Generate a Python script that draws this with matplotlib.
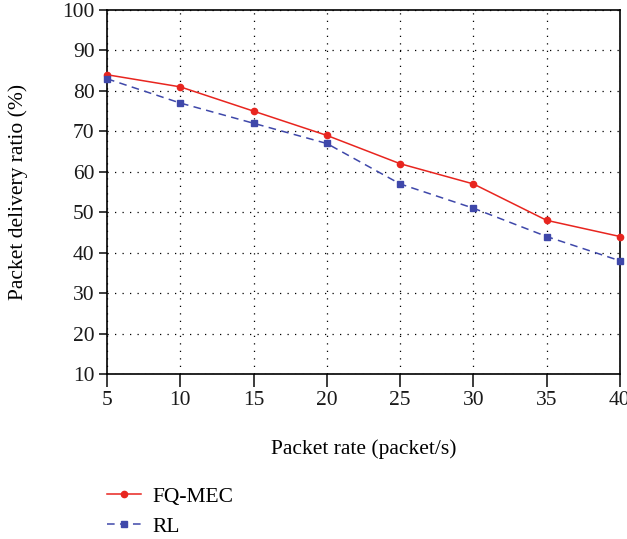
import numpy as np
import matplotlib
matplotlib.use('Agg')
import matplotlib.pyplot as plt
from matplotlib.lines import Line2D

plt.rcParams['font.family'] = ['Liberation Serif', 'DejaVu Serif']

# -- data -------------------------------------------------------------
packet_rate = [5, 10, 15, 20, 25, 30, 35, 40]
fq_mec = [84, 81, 75, 69, 62, 57, 48, 44]
rl = [83, 77, 72, 67, 57, 51, 44, 38]
y_ticks = [10, 20, 30, 40, 50, 60, 70, 80, 90, 100]

RED = '#E8251F'
BLUE = '#3F48AA'

fig = plt.figure(figsize=(6.27, 5.39), dpi=100, facecolor='white')
ax = fig.add_axes([0.1707, 0.3061, 0.818, 0.6753])

ax.plot(packet_rate, fq_mec, color=RED, lw=1.1, marker='o', ms=4.5,
        label='FQ-MEC', clip_on=False, zorder=3)
ax.plot(packet_rate, rl, color=BLUE, lw=1.1, ls=(0, (5, 3.5)), marker='s',
        ms=4.5, label='RL', clip_on=False, zorder=3)

ax.set_xlim(5, 40)
ax.set_ylim(10, 100)
ax.set_xticks(packet_rate)
ax.set_yticks(y_ticks)
ax.grid(True, color='black', ls=(0, (1, 5)), lw=0.9)
ax.set_axisbelow(True)
for sp in ax.spines.values():
    sp.set_linewidth(1.2)
ax.tick_params(direction='out', labelsize=15.5, width=1.2, colors='#1A1A1A')
ax.tick_params(axis='y', length=6, pad=3)
ax.tick_params(axis='x', length=9, pad=3)

ax.set_xlabel('Packet rate (packet/s)', fontsize=15.5)
ax.set_ylabel('Packet delivery ratio (%)', fontsize=15.5)
ax.xaxis.set_label_coords(0.5, -0.206)
ax.yaxis.set_label_coords(-0.1735, 0.5)
ax.xaxis.label.set_va('center')
ax.yaxis.label.set_va('center')

handles = [Line2D([], [], color=RED, lw=1.1, marker='o', ms=4.5),
           Line2D([], [], color=BLUE, lw=1.1, ls=(0, (5, 3.5)), marker='s', ms=4.5)]
fig.legend(handles, ['FQ-MEC', 'RL'], loc='upper left',
           bbox_to_anchor=(0.160, 0.109), frameon=False, fontsize=15.5,
           handlelength=1.6, handletextpad=0.5, labelspacing=0.45,
           borderaxespad=0.0, borderpad=0.3)

fig.savefig('out.png', dpi=100, facecolor='white')
